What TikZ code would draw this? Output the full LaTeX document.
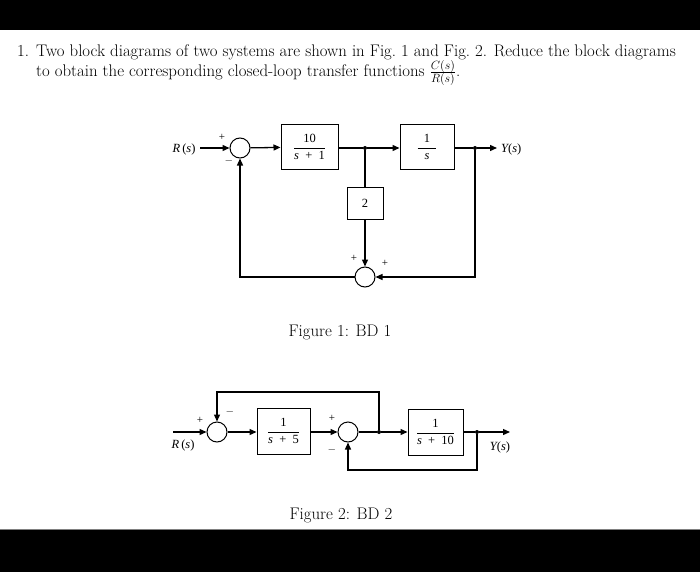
\documentclass[tikz,border=0pt]{standalone}
\usepackage{fontspec}
\newfontfamily\tms{Liberation Serif}
\usetikzlibrary{arrows.meta}
\newcommand{\blkfrac}[2]{$\displaystyle\frac{\hbox{\tms #1}}{\hbox{\tms #2}}$}
\newcommand{\sv}{\itshape s\upshape}
\begin{document}
\begin{tikzpicture}[x=1pt,y=-1pt,
  blk/.style={draw, line width=1pt, inner sep=0pt, font=\tms\fontsize{12.5}{13}\selectfont},
  sumc/.style={circle, draw, line width=1pt, minimum size=20pt, inner sep=0pt},
  jdot/.style={circle, fill, inner sep=0pt, minimum size=4pt},
  wire/.style={line width=1.3pt},
  sig/.style={line width=1.3pt, -{Triangle[length=7pt,width=6pt]}},
  lbl/.style={font=\tms\fontsize{12.5}{13}\selectfont, inner sep=1pt},
  sgn/.style={font=\tms\fontsize{11}{12}\selectfont, inner sep=0pt},
  txt/.style={font=\fontsize{16.8}{20}\selectfont, inner sep=0pt, anchor=base west}]
\useasboundingbox (0,0) rectangle (700,572);
\fill[black] (0,0) rectangle (700,30);
\fill[black] (0,529) rectangle (700,572);
\draw[gray, line width=1pt] (0,529) -- (700,529);
% header
\node[txt] (n1) at (17,57) {1.};
\node[txt] (h1) at (36,57) {Two block diagrams of two systems are shown in Fig.~1 and Fig.~2. Reduce the block diagrams};
\node[txt] (h2) at (36,77) {to obtain the corresponding closed-loop transfer functions $\frac{C(s)}{R(s)}$.};
% Figure 1
\coordinate (in1) at (200,148);
\node[lbl, anchor=center] (R1) at (184,149) {\itshape R\,\upshape(\itshape s\upshape)};
\node[sumc] (s1) at (240,148) {};
\node[blk, minimum width=57pt, minimum height=44pt] (b1) at (309.5,147) {\blkfrac{10}{\sv\enspace+\enspace1}};
\node[jdot] (d1) at (365,148) {};
\node[blk, minimum width=54pt, minimum height=44pt] (b2) at (427,147) {\blkfrac{\enspace1\enspace}{\sv}};
\node[jdot] (d2) at (475,148) {};
\coordinate (out1) at (497,148);
\node[lbl, anchor=west] (Y1) at (500,149) {\itshape Y\upshape(\itshape s\upshape)};
\node[blk, minimum width=36pt, minimum height=32pt] (b3) at (365,203) {2};
\node[sumc] (s2) at (365,277) {};
\draw[sig] (in1) -- (s1);
\draw[sig] (s1) -- (b1);
\draw[wire] (b1.east |- d1) -- (d1);
\draw[sig] (d1) -- (b2.west |- d1);
\draw[wire] (b2.east |- d2) -- (d2);
\draw[sig] (d2) -- (out1);
\draw[wire] (d1) -- (b3);
\draw[sig] (b3) -- (s2);
\draw[sig] (d2) |- (s2);
\draw[sig] (s2) -| (s1);
\node[sgn] (p1) at (222,137) {+};
\node[sgn] (m1) at (229,161) {\(-\)};
\node[sgn] (p2) at (354,258) {+};
\node[sgn] (p3) at (385,263) {+};
\node[txt, anchor=base] (cap1) at (340,336) {Figure 1: BD 1};
% Figure 2
\coordinate (in2) at (173,432);
\node[lbl] (R2) at (183,445) {\itshape R\,\upshape(\itshape s\upshape)};
\node[sumc] (t1) at (217,432) {};
\node[blk, minimum width=53pt, minimum height=46pt] (c1) at (283.5,431) {\blkfrac{1}{\sv\enspace+\enspace5}};
\node[sumc] (t2) at (348,432) {};
\node[jdot] (e1) at (379,432) {};
\node[blk, minimum width=55pt, minimum height=46pt] (c2) at (435.5,432) {\blkfrac{1}{\sv\enspace+\enspace10}};
\node[jdot] (e2) at (477,432) {};
\coordinate (out2) at (510,432);
\node[lbl] (Y2) at (500,447) {\itshape Y\upshape(\itshape s\upshape)};
\coordinate (tf) at (379,392);
\coordinate (bf) at (477,470);
\draw[sig] (in2) -- (t1);
\draw[sig] (t1) -- (c1.west |- t1);
\draw[sig] (c1.east |- t2) -- (t2);
\draw[wire] (t2) -- (e1);
\draw[sig] (e1) -- (c2);
\draw[wire] (c2) -- (e2);
\draw[sig] (e2) -- (out2);
\draw[sig] (e1) -- (tf) -| (t1);
\draw[sig] (e2) -- (bf) -| (t2);
\node[sgn] (p4) at (200,420) {+};
\node[sgn] (m2) at (230,412) {\(-\)};
\node[sgn] (p5) at (332,418) {+};
\node[sgn] (m3) at (332,450) {\(-\)};
\node[txt, anchor=base] (cap2) at (341,519) {Figure 2: BD 2};
\end{tikzpicture}
\end{document}
